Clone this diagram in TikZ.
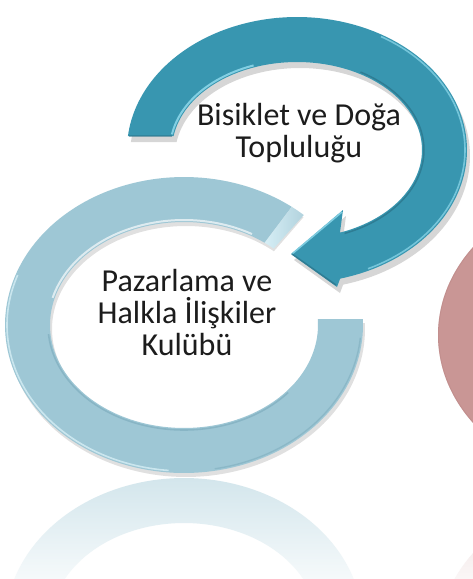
\documentclass[tikz,border=0pt]{standalone}
\usepackage{fontspec}
\setmainfont{Carlito}
\definecolor{tealmain}{HTML}{3896B0}
\definecolor{tealdark}{HTML}{2A7389}
\definecolor{teallight}{HTML}{8FDAEC}
\definecolor{bluemain}{HTML}{9EC7D5}
\definecolor{bluedark}{HTML}{7FAEBF}
\definecolor{bluelight}{HTML}{D6EEF5}
\definecolor{redmain}{HTML}{C99695}
\definecolor{reddark}{HTML}{B98584}
\definecolor{txt}{HTML}{1C1C1C}
\tikzset{
  lbl/.style={align=center, text=txt, font=\fontsize{32}{32}\selectfont, inner sep=0pt},
  shadowfill/.style={fill=black, opacity=0.18},
}
\begin{document}
\begin{tikzpicture}[x=1pt,y=-1pt]
\useasboundingbox (0,0) rectangle (473,579);
\fill[white] (0,0) rectangle (473,579);
\begin{scope}
\clip (0,0) rectangle (473,579);
% ---------- red ring (partly visible) ----------
\fill[redmain, even odd rule] (617,335) ellipse[x radius=179, y radius=148]
      (617,335) ellipse[x radius=134, y radius=103];
\draw[reddark, line width=1pt, opacity=0.4] (617,335) ellipse[x radius=178.5, y radius=147.5];
% red reflection
\begin{scope}
\clip plot[domain=180:360,samples=80] ({617+179*cos(\x)},{641+148*sin(\x)})
   -- plot[domain=360:180,samples=80] ({617+134*cos(\x)},{641+103*sin(\x)}) -- cycle;
\shade[top color=redmain!35, bottom color=redmain!8] (380,493) rectangle (473,579);
\end{scope}
% ---------- blue ring reflection ----------
\begin{scope}
\clip plot[domain=180:360,samples=100] ({184+179*cos(\x)},{626+148*sin(\x)})
   -- plot[domain=360:180,samples=100] ({184+134*cos(\x)},{626+103*sin(\x)}) -- cycle;
\shade[top color=bluemain!45, bottom color=bluemain!10] (0,478) rectangle (380,579);
\end{scope}
% ---------- blue ring ----------
\begin{scope}[shift={(2,4)}]
\fill[shadowfill, opacity=0.12] plot[domain=-2.3:311,samples=150] ({184+179*cos(\x)},{325+148*sin(\x)})
   -- plot[domain=311:-3.3,samples=150] ({184+134*cos(\x)},{325+103*sin(\x)}) -- cycle;
\end{scope}
\fill[bluemain] plot[domain=-2.3:307,samples=150] ({184+179*cos(\x)},{325+148*sin(\x)})
   -- plot[domain=307:-3.3,samples=150] ({184+134*cos(\x)},{325+103*sin(\x)}) -- cycle;
% bevel end face
\shade[left color=bluelight, right color=bluemain!80] plot[domain=307:312,samples=10] ({184+179*cos(\x)},{325+148*sin(\x)})
   -- plot[domain=312:307,samples=10] ({184+134*cos(\x)},{325+103*sin(\x)}) -- cycle;
% highlights
\draw[white, opacity=0.65, line width=2pt] plot[domain=195:300,samples=80] ({184+136*cos(\x)},{325+105*sin(\x)});
\draw[bluedark, opacity=0.7, line width=1.6pt] plot[domain=40:175,samples=80] ({184+136*cos(\x)},{325+105*sin(\x)});
\draw[bluelight, opacity=0.8, line width=1.6pt] plot[domain=95:200,samples=80] ({184+177*cos(\x)},{325+146*sin(\x)});
\draw[bluedark, opacity=0.6, line width=1.4pt] plot[domain=5:80,samples=60] ({184+177*cos(\x)},{325+146*sin(\x)});
% ---------- teal arrow ----------
\begin{scope}[shift={(3,6)}]
\fill[shadowfill, opacity=0.16] plot[domain=186.04:435.3,samples=150] ({297+170*cos(\x)},{150+133*sin(\x)})
   -- (337,287) -- (291,254) -- (343,210)
   -- plot[domain=429.9:189.15,samples=150] ({297+125*cos(\x)},{150+88*sin(\x)}) -- cycle;
\end{scope}
\fill[tealmain] plot[domain=186.04:435.3,samples=150] ({297+170*cos(\x)},{150+133*sin(\x)})
   -- (337,287) -- (291,254) -- (343,210)
   -- plot[domain=429.9:189.15,samples=150] ({297+125*cos(\x)},{150+88*sin(\x)}) -- cycle;
\draw[teallight, opacity=0.85, line width=2pt] plot[domain=190:250,samples=60] ({297+127*cos(\x)},{150+90*sin(\x)});
\draw[teallight, opacity=0.7, line width=1.6pt] plot[domain=300:425,samples=80] ({297+168*cos(\x)},{150+131*sin(\x)});
\draw[tealdark, opacity=0.7, line width=1.5pt] plot[domain=300:428,samples=80] ({297+127*cos(\x)},{150+90*sin(\x)});
\draw[teallight, opacity=0.8, line width=1.5pt] (292,254) -- (342,212);
\draw[tealdark, opacity=0.7, line width=1.5pt] (292,254) -- (336,285);
\draw[tealdark, opacity=0.5, line width=1.5pt] (129,136) -- (172,136);
\end{scope}
% ---------- texts ----------
\node[lbl] (top) at (299,133) {Bisiklet ve Doğa\\Topluluğu};
\node[lbl] (left) at (187,313) {Pazarlama ve\\Halkla İlişkiler\\Kulübü};
\end{tikzpicture}
\end{document}
